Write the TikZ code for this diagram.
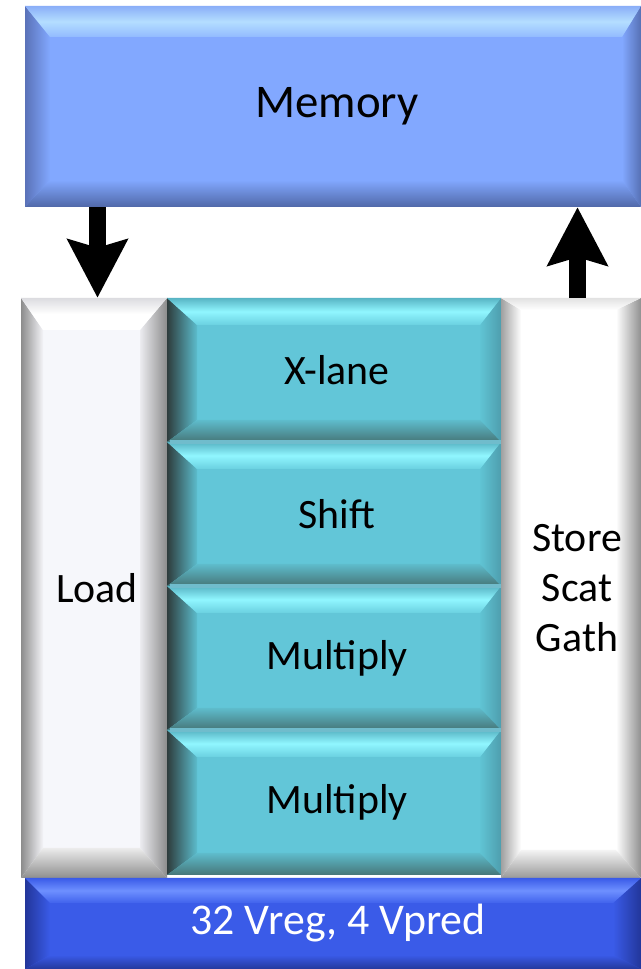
\documentclass[tikz,border=0pt]{standalone}
\usepackage{fontspec}
\setmainfont{Carlito}
\usetikzlibrary{arrows.meta}
\definecolor{memB}{HTML}{82A8FF}
\definecolor{memL}{HTML}{5A72B8}
\definecolor{memR}{HTML}{5670B4}
\definecolor{memT1}{HTML}{8AAEF8}
\definecolor{memT2}{HTML}{B4DEFF}
\definecolor{memT3}{HTML}{92BAFF}
\definecolor{memD}{HTML}{5068A8}
\definecolor{tlB}{HTML}{62C6D8}
\definecolor{tlL1}{HTML}{2E3C3C}
\definecolor{tlL2}{HTML}{5CBCCC}
\definecolor{tlR1}{HTML}{60C4D4}
\definecolor{tlR2}{HTML}{4E9EAE}
\definecolor{tlT1}{HTML}{58B4C4}
\definecolor{tlT2}{HTML}{90F6FF}
\definecolor{tlT3}{HTML}{6AD0E0}
\definecolor{tlD1}{HTML}{5EBCCC}
\definecolor{tlD2}{HTML}{467678}
\definecolor{tlSep}{HTML}{70BCCC}
\definecolor{ldB}{HTML}{F6F7FB}
\definecolor{ldL1}{HTML}{8C8C8C}
\definecolor{ldL2}{HTML}{F4F4F8}
\definecolor{ldR1}{HTML}{ECECF0}
\definecolor{ldT1}{HTML}{DCDCE0}
\definecolor{ldD1}{HTML}{ECECEC}
\definecolor{ldD2}{HTML}{8E8E8E}
\definecolor{stL1}{HTML}{A0A0A0}
\definecolor{stR2}{HTML}{909090}
\definecolor{stT1}{HTML}{E2E2E2}
\definecolor{stD1}{HTML}{F4F4F4}
\definecolor{stD2}{HTML}{999999}
\definecolor{blB}{HTML}{3A5BE8}
\definecolor{blL}{HTML}{22369A}
\definecolor{blT2}{HTML}{6E90FF}
\definecolor{blT3}{HTML}{4062EC}
\definecolor{blD}{HTML}{24389C}
\tikzset{
  membase/.style={fill=memB},
  memleft/.style={left color=memL, right color=memB},
  memright/.style={left color=memB, right color=memR},
  memtop/.style={top color=memT1, bottom color=memT3, middle color=memT2},
  membot/.style={top color=memB, bottom color=memD},
  tlbase/.style={fill=tlB},
  tlleft/.style={left color=tlL1, right color=tlL2},
  tlright/.style={left color=tlR1, right color=tlR2},
  tltop/.style={top color=tlT1, bottom color=tlT3, middle color=tlT2},
  tlbot/.style={top color=tlD1, bottom color=tlD2},
  ldbase/.style={fill=ldB},
  ldleft/.style={left color=ldL1, right color=ldL2},
  ldright/.style={left color=ldR1, right color=ldL1},
  ldtop/.style={top color=ldT1, bottom color=white, middle color=white},
  ldbot/.style={top color=ldD1, bottom color=ldD2},
  stbase/.style={fill=white},
  stleft/.style={left color=stL1, right color=white},
  stright/.style={left color=white, right color=stR2},
  sttop/.style={top color=stT1, bottom color=white},
  stbot/.style={top color=stD1, bottom color=stD2},
  blbase/.style={fill=blB},
  blleft/.style={left color=blL, right color=blB},
  blright/.style={left color=blB, right color=blL},
  bltop/.style={top color=blB, bottom color=blT3, middle color=blT2},
  blbot/.style={top color=blB, bottom color=blD},
  lbl/.style={inner sep=0pt, draw=none, font=\fontsize{42}{50}\selectfont, align=center},
  bigarrow/.style={line width=17bp, -{Stealth[length=58bp, width=59bp, inset=8bp]}}
}
\newcommand\bevbox[9]{%
  \fill[#1base] (#2,969-#3) rectangle (#4,969-#5);
  \shade[#1left] (#2,969-#3) -- (#2+#6,969-#3-#7) -- (#2+#6,969-#5+#9) -- (#2,969-#5) -- cycle;
  \shade[#1right] (#4,969-#3) -- (#4-#8,969-#3-#7) -- (#4-#8,969-#5+#9) -- (#4,969-#5) -- cycle;
  \shade[#1top] (#2,969-#3) -- (#4,969-#3) -- (#4-#8,969-#3-#7) -- (#2+#6,969-#3-#7) -- cycle;
  \shade[#1bot] (#2,969-#5) -- (#4,969-#5) -- (#4-#8,969-#5+#9) -- (#2+#6,969-#5+#9) -- cycle;
}
\begin{document}
\begin{tikzpicture}[x=1bp,y=1bp]
\useasboundingbox (0,0) rectangle (641,969);
\fill[white] (0,0) rectangle (641,969);
% boxes
\bevbox{mem}{25}{6}{641}{207}{25}{31}{19}{27}
\bevbox{ld}{21}{298}{167}{878}{22}{32}{27}{30}
\bevbox{tl}{167}{298}{501}{442}{30}{27}{21}{22}
\bevbox{tl}{167}{442}{501}{586}{30}{27}{21}{22}
\bevbox{tl}{167}{586}{501}{730}{30}{27}{21}{22}
\bevbox{tl}{167}{730}{501}{875}{30}{27}{21}{22}
\fill[tlSep] (170,969-440) rectangle (501,969-444);
\fill[tlSep] (170,969-584) rectangle (501,969-588);
\fill[tlSep] (170,969-728) rectangle (501,969-732);
\bevbox{st}{501}{298}{641}{878}{20}{12}{25}{28}
\bevbox{bl}{25}{878}{641}{969}{25}{25}{28}{14}
% labels (nodes sized as their boxes)
\node[lbl, font=\fontsize{47}{52}\selectfont, minimum width=616bp, minimum height=201bp] (memory) at (337,969-106.5) {Memory};
\node[lbl, minimum width=146bp, minimum height=580bp] (load) at (97,969-588) {Load};
\node[lbl] (xlane) at (337,969-370) {X-lane};
\node[lbl] (shift) at (337,969-514) {Shift};
\node[lbl] (mult1) at (337,969-658) {Multiply};
\node[lbl] (mult2) at (337,969-802) {Multiply};
\node[lbl, minimum width=140bp, minimum height=580bp] (store) at (577,969-588) {Store\\Scat\\Gath};
\node[lbl, text=white, font=\fontsize{44}{50}\selectfont] (vreg) at (338,969-923) {32 Vreg, 4 Vpred};
% arrows
\coordinate (lx) at (97.5,0);
\coordinate (rx) at (577.5,0);
\draw[bigarrow] (memory.south -| lx) -- (load.north -| lx);
\draw[bigarrow] (store.north -| rx) -- (memory.south -| rx);
\end{tikzpicture}
\end{document}
